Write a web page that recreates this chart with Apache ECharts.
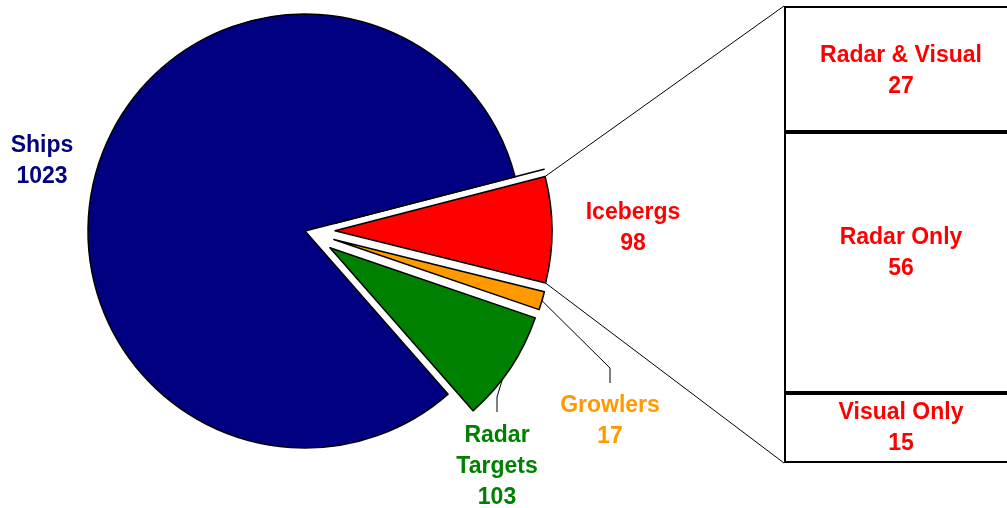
<!DOCTYPE html>
<html>
<head>
<meta charset="utf-8">
<script src="https://cdn.jsdelivr.net/npm/echarts@6/dist/echarts.min.js"></script>
<style>
html,body{margin:0;padding:0;background:#fff;}
#c{width:1007px;height:508px;}
</style>
</head>
<body>
<div id="c"></div>
<script>
// Pie data (first entry is an empty, zero-valued slice present in the original)
const pieCategories = ['', 'Icebergs', 'Growlers', 'Radar Targets', 'Ships'];
const pieValues = [0, 98, 17, 103, 1023];
const pieColors = ['#ffffff', '#ff0000', '#ff9900', '#008000', '#000080'];
// Breakdown bar (Icebergs)
const barCategories = ['Radar & Visual', 'Radar Only', 'Visual Only'];
const barValues = [27, 56, 15];

const FONT = '"Liberation Sans", Arial, sans-serif';
const FS = 23, LH = 31;
const CX = 305, CY = 231, R = 217, START = 14.5, OFFSET = 30;
const total = pieValues.reduce((a, b) => a + b, 0);

// geometry helpers: start/end angles (math degrees, CCW positive) of each slice
function sliceAngles(i) {
  let a = START;
  for (let k = 0; k < i; k++) a -= pieValues[k] / total * 360;
  return [a, a - pieValues[i] / total * 360];
}
function offsetOf(i) {
  if (pieCategories[i] === 'Ships') return [0, 0];
  const [s, e] = sliceAngles(i);
  const m = (s + e) / 2 * Math.PI / 180;
  return [Math.cos(m) * OFFSET, -Math.sin(m) * OFFSET];
}
function outerPoint(i, deg) {
  const o = offsetOf(i);
  const t = deg * Math.PI / 180;
  return [CX + o[0] + R * Math.cos(t), CY + o[1] - R * Math.sin(t)];
}
function arcPoint(i, frac) {
  const [s, e] = sliceAngles(i);
  return outerPoint(i, s + (e - s) * frac);
}

// label placement (layout, in pixels: centre x, top y, leader start fraction along arc, bend points)
const labelPos = {
  'Icebergs': {x: 633, y: 197, line: null},
  'Growlers': {x: 610, y: 390, frac: 0.5, line: [[610, 368], [610, 383]]},
  'Radar Targets': {x: 497, y: 420, frac: 0.62, line: [[497, 397], [497, 412]]},
  'Ships': {x: 42, y: 130, line: null}
};
const barLabelOffsets = [[0, 2], [0, -9], [0, 0]];

const pieData = pieCategories.map((n, i) => ({
  name: n,
  value: pieValues[i],
  selected: n !== 'Ships',
  itemStyle: {color: pieColors[i]}
}));

const chart = echarts.init(document.getElementById('c'), null, {renderer: 'canvas'});

const option = {
  animation: false,
  backgroundColor: '#ffffff',
  grid: {left: 784, top: 6, width: 234, height: 457, containLabel: false, outerBoundsMode: 'none'},
  xAxis: {type: 'category', data: ['Icebergs'], show: false},
  yAxis: {type: 'value', min: 0, max: 98, inverse: true, show: false},
  series: [
    {
      type: 'pie',
      center: [CX, CY],
      radius: R,
      startAngle: START,
      clockwise: true,
      selectedMode: 'multiple',
      selectedOffset: OFFSET,
      avoidLabelOverlap: false,
      emphasis: {disabled: true},
      itemStyle: {borderColor: '#000', borderWidth: 1.5},
      label: {show: false},
      labelLine: {show: false},
      data: pieData
    }
  ].concat(barCategories.map((n, i) => ({
    type: 'bar',
    name: n,
    stack: 'ice',
    barWidth: '100%',
    emphasis: {disabled: true},
    itemStyle: {color: '#ffffff', borderColor: '#000', borderWidth: 2},
    label: {
      show: true,
      position: 'inside',
      offset: barLabelOffsets[i],
      formatter: '{a}\n{c}',
      color: '#ff0000',
      fontFamily: FONT,
      fontWeight: 'bold',
      fontSize: FS,
      lineHeight: LH
    },
    data: [barValues[i]]
  })))
};

chart.setOption(option);

// pie labels, leader lines and connectors to the breakdown bar
function addGraphics() {
  const g = [];
  pieCategories.forEach((n, i) => {
    const lp = labelPos[n];
    if (!lp) return;
    g.push({
      type: 'text', x: lp.x, y: lp.y, z: 20,
      style: {
        text: n.replace(' ', '\n') + '\n' + pieValues[i],
        fill: pieColors[i], fontFamily: FONT, fontWeight: 'bold',
        fontSize: FS, lineHeight: LH, align: 'center', verticalAlign: 'top'
      }
    });
    if (lp.line) {
      g.push({
        type: 'polyline', z: 20,
        shape: {points: [arcPoint(i, lp.frac), lp.line[0], lp.line[1]]},
        style: {stroke: '#000', lineWidth: 1, fill: null}
      });
    }
  });
  const ice = pieCategories.indexOf('Icebergs');
  const [s, e] = sliceAngles(ice);
  const pTop = outerPoint(ice, s);
  const pBot = outerPoint(ice, e);
  const model = chart.getModel();
  const first = model.getSeriesByIndex(1).getData().getItemLayout(0);
  const last = model.getSeriesByIndex(barCategories.length).getData().getItemLayout(0);
  const topY = Math.min(first.y, first.y + first.height);
  const botY = Math.max(last.y, last.y + last.height);
  const leftX = Math.min(first.x, first.x + first.width);
  g.push({type: 'line', z: 10, shape: {x1: pTop[0], y1: pTop[1], x2: leftX, y2: topY}, style: {stroke: '#000', lineWidth: 1}});
  g.push({type: 'line', z: 10, shape: {x1: pBot[0], y1: pBot[1], x2: leftX, y2: botY}, style: {stroke: '#000', lineWidth: 1}});
  chart.setOption({graphic: g});
}
addGraphics();
</script>
</body>
</html>
